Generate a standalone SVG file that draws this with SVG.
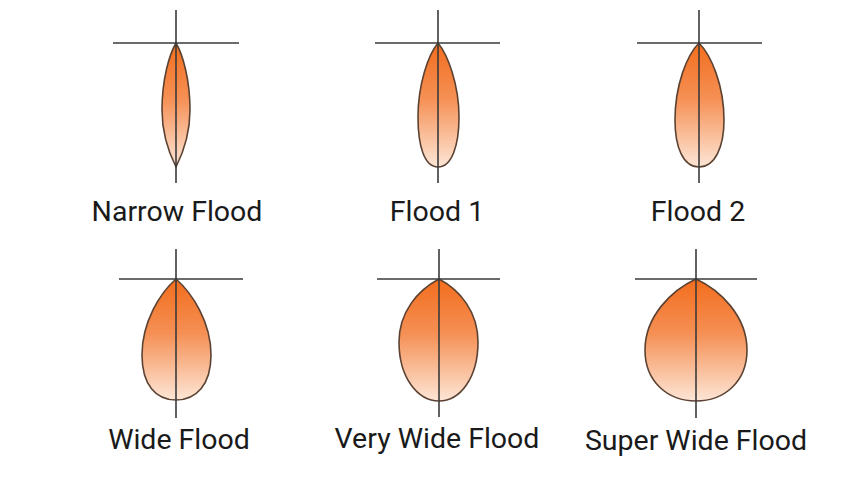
<svg xmlns="http://www.w3.org/2000/svg" width="864" height="480" viewBox="0 0 864 480">
<defs>
<linearGradient id="g" x1="0" y1="0" x2="0" y2="1">
<stop offset="0" stop-color="#f26d1d"/>
<stop offset="0.45" stop-color="#f59055"/>
<stop offset="1" stop-color="#fde6d6"/>
</linearGradient>
<style>
.lobe{fill:url(#g);stroke:#5b4232;stroke-width:1.6}
.ax{stroke:#3a3a3a;stroke-width:1.6;fill:none}
.lbl{font-family:Roboto,"Liberation Sans",sans-serif;font-size:28.5px;fill:#1a1a1a;text-anchor:middle}
</style>
</defs>
<rect width="864" height="480" fill="#fff"/>
<g id="narrow-flood">
<path class="lobe" d="M176,43 C183,55 190,80 190,110 C190,135 182,155 176,167 C170,155 162,135 162,110 C162,80 169,55 176,43 Z"/>
<line class="ax" x1="113" y1="43" x2="239" y2="43"/>
<line class="ax" x1="176" y1="10" x2="176" y2="183"/>
<text class="lbl" x="177" y="221">Narrow Flood</text>
</g>
<g id="flood-1">
<path class="lobe" d="M438,43 C448,55 459,85 459,117 C459,145 452,167 438,167 C424,167 418,145 418,117 C418,85 428,55 438,43 Z"/>
<line class="ax" x1="375" y1="43" x2="500" y2="43"/>
<line class="ax" x1="438" y1="10" x2="438" y2="183"/>
<text class="lbl" x="437" y="221">Flood 1</text>
</g>
<g id="flood-2">
<path class="lobe" d="M699,43 C711,55 724,85 724,120 C724,147 715,167 699,167 C683,167 675,147 675,120 C675,85 687,55 699,43 Z"/>
<line class="ax" x1="637" y1="43" x2="762" y2="43"/>
<line class="ax" x1="699" y1="10" x2="699" y2="183"/>
<text class="lbl" x="698" y="221">Flood 2</text>
</g>
<g id="wide-flood">
<path class="lobe" d="M176,279 C192,293 211,322 211,355 C211,385 196,400 176,400 C156,400 142,385 142,355 C142,322 160,293 176,279 Z"/>
<line class="ax" x1="119" y1="279" x2="243" y2="279"/>
<line class="ax" x1="176" y1="249" x2="176" y2="418"/>
<text class="lbl" x="179" y="449">Wide Flood</text>
</g>
<g id="very-wide-flood">
<path class="lobe" d="M439,279 C460,290 478,312 478,342 C478,378 460,401 439,401 C418,401 399,378 399,342 C399,312 418,290 439,279 Z"/>
<line class="ax" x1="377" y1="279" x2="500" y2="279"/>
<line class="ax" x1="439" y1="249" x2="439" y2="417"/>
<text class="lbl" x="437" y="448">Very Wide Flood</text>
</g>
<g id="super-wide-flood">
<path class="lobe" d="M696,279 C720,290 747,316 747,350 C747,382 724,401 696,401 C668,401 645,382 645,350 C645,316 672,290 696,279 Z"/>
<line class="ax" x1="635" y1="279" x2="757" y2="279"/>
<line class="ax" x1="696" y1="249" x2="696" y2="418"/>
<text class="lbl" x="696" y="450">Super Wide Flood</text>
</g>
</svg>
